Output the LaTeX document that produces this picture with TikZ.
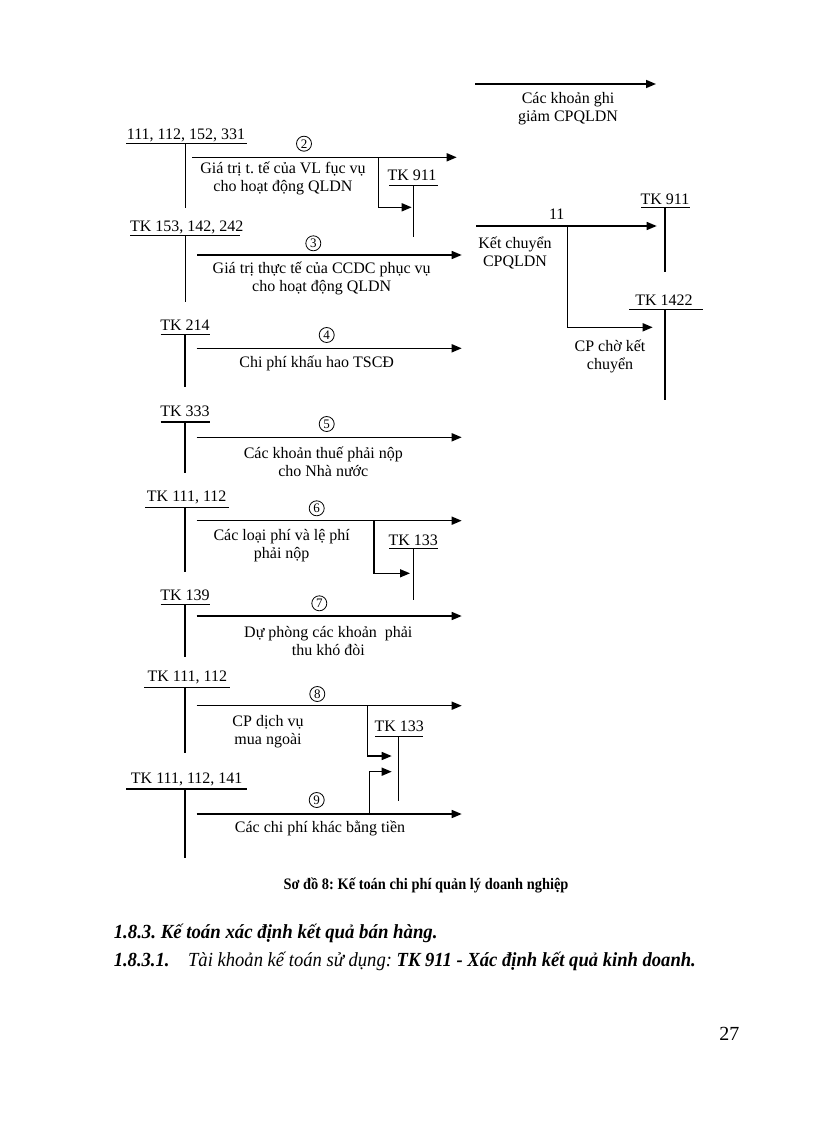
\documentclass[tikz,border=0pt]{standalone}
\usepackage{fontspec}
\setmainfont{Liberation Serif}
\usetikzlibrary{arrows.meta}
\frenchspacing
\begin{document}
\begin{tikzpicture}[x=1pt,y=-1pt,>={Triangle[length=10pt,width=8pt]},line width=1.5pt,
    acc/.style={font=\fontsize{16}{18}\selectfont,inner sep=0pt,anchor=base},
    txt/.style={font=\fontsize{16}{18}\selectfont,align=center,inner sep=0pt},
    num/.style={circle,draw,line width=0.8pt,inner sep=0pt,minimum size=15pt,font=\fontsize{13}{13}\selectfont}]
  \useasboundingbox (0,0) rectangle (816,1123);

  % ghi giam
  \coordinate (g1) at (475,84);
  \coordinate (g2) at (656,84);
  \draw[->] (g1) -- (g2);
  \node[txt] (ghigiam) at (568,109) {Các khoản ghi\\giảm CPQLDN};

  % (2)
  \node[acc] (a2) at (186,140) {111, 112, 152, 331};
  \draw (126,143.3) -- (247,143.3);
  \draw (185.3,143.3) -- (185.3,208);
  \coordinate (s2) at (192,157.3);
  \coordinate (e2) at (456.7,157.3);
  \draw[->] (s2) -- (e2);
  \node[num] (n2) at (304,143.7) {2};
  \node[txt] (t2) at (283,178.3) {Giá trị t. tế của VL fục vụ\\cho hoạt động QLDN};
  \node[acc] (k911a) at (412,181) {TK 911};
  \draw (389,185.7) -- (438,185.7);
  \draw (413.3,185.7) -- (413.3,236.7);
  \coordinate (b2) at (378.3,157.3);
  \coordinate (d2) at (411.7,207.3);
  \draw[->] (b2) |- (d2);

  % (3)
  \node[acc] (a3) at (186.7,231.7) {TK 153, 142, 242};
  \draw (130,235.7) -- (240,235.7);
  \draw (185.3,235.7) -- (185.3,301.7);
  \coordinate (s3) at (197.3,255);
  \coordinate (e3) at (461.7,255);
  \draw[->] (s3) -- (e3);
  \node[num] (n3) at (313.3,243.3) {3};
  \node[txt] (t3) at (321.7,278.8) {Giá trị thực tế của CCDC phục vụ\\cho hoạt động QLDN};

  % ket chuyen
  \node[acc] (k911b) at (665,204.5) {TK 911};
  \draw (641,207.3) -- (690,207.3);
  \draw (665,207.3) -- (665,271.7);
  \node[acc] (n11) at (556.7,219) {11};
  \coordinate (s11) at (476,226);
  \coordinate (e11) at (656.7,226);
  \draw[->] (s11) -- (e11);
  \node[txt] (t11) at (515,252.5) {Kết chuyển\\CPQLDN};
  \node[acc] (k1422) at (664,305) {TK 1422};
  \draw (629.3,309.3) -- (702.7,309.3);
  \draw (665,309.3) -- (665,400);
  \coordinate (b11) at (567.3,226);
  \coordinate (d11) at (652.7,327.3);
  \draw[->] (b11) |- (d11);
  \node[txt] (t1422) at (610,356.7) {CP chờ kết\\chuyển};

  % (4)
  \node[acc] (a4) at (185,330) {TK 214};
  \draw (160.7,334.3) -- (210,334.3);
  \draw (185,334.3) -- (185,386.7);
  \coordinate (s4) at (196.7,348.3);
  \coordinate (e4) at (461.7,348.3);
  \draw[->] (s4) -- (e4);
  \node[num] (n4) at (326.7,335) {4};
  \node[txt] (t4) at (316.7,363.3) {Chi phí khấu hao TSCĐ};

  % (5)
  \node[acc] (a5) at (185,416.7) {TK 333};
  \draw (160.7,422) -- (210,422);
  \draw (185,422) -- (185,473.3);
  \coordinate (s5) at (196.7,437.3);
  \coordinate (e5) at (461.7,437.3);
  \draw[->] (s5) -- (e5);
  \node[num] (n5) at (326.7,424) {5};
  \node[txt] (t5) at (323.3,461.3) {Các khoản thuế phải nộp\\cho Nhà nước};

  % (6)
  \node[acc] (a6) at (186.7,501.7) {TK 111, 112};
  \draw (145,507.7) -- (229.3,507.7);
  \draw (185,507.7) -- (185,571.7);
  \coordinate (s6) at (196.7,520.7);
  \coordinate (e6) at (461.7,520.7);
  \draw[->] (s6) -- (e6);
  \node[num] (n6) at (316.7,508.3) {6};
  \node[txt] (t6) at (281.7,545.8) {Các loại phí và lệ phí\\phải nộp};
  \node[acc] (k133a) at (413.3,545.7) {TK 133};
  \draw (389.3,548.3) -- (438.3,548.3);
  \draw (413.3,548.3) -- (413.3,600);
  \coordinate (b6) at (374,520.7);
  \coordinate (d6) at (410,573.3);
  \draw[->] (b6) |- (d6);

  % (7)
  \node[acc] (a7) at (185,600) {TK 139};
  \draw (160.7,604.3) -- (210,604.3);
  \draw (185,604.3) -- (185,656.7);
  \coordinate (s7) at (196.7,616);
  \coordinate (e7) at (461.7,616);
  \draw[->] (s7) -- (e7);
  \node[num] (n7) at (319.3,603.3) {7};
  \node[txt] (t7) at (328.3,640.8) {Dự phòng các khoản~ phải\\thu khó đòi};

  % (8)
  \node[acc] (a8) at (187.3,681.7) {TK 111, 112};
  \draw (144.3,687.3) -- (230,687.3);
  \draw (185,687.3) -- (185,752.7);
  \coordinate (s8) at (196.7,705.7);
  \coordinate (e8) at (461.7,705.7);
  \draw[->] (s8) -- (e8);
  \node[num] (n8) at (317.3,694) {8};
  \node[txt] (t8) at (268,731.2) {CP dịch vụ\\mua ngoài};
  \node[acc] (k133b) at (399.3,731.7) {TK 133};
  \draw (375,736.7) -- (423.3,736.7);
  \draw (398.7,736.7) -- (398.7,800.7);
  \coordinate (b8) at (367.3,705.7);
  \coordinate (d8) at (391.7,756);
  \draw[->] (b8) |- (d8);

  % (9)
  \node[acc] (a9) at (186.7,783.3) {TK 111, 112, 141};
  \draw (126,789) -- (246.7,789);
  \draw (185,789) -- (185,858.3);
  \coordinate (s9) at (196.7,814);
  \coordinate (e9) at (461.7,814);
  \draw[->] (s9) -- (e9);
  \node[num] (n9) at (316.7,800) {9};
  \node[txt] (t9) at (320,828.3) {Các chi phí khác bằng tiền};
  \coordinate (b9) at (369.3,814);
  \coordinate (d9) at (391.7,771.7);
  \draw[->] (b9) |- (d9);

  % caption and headings
  \node[font=\bfseries\fontsize{16}{16}\selectfont,inner sep=0pt,anchor=base] (cap) at (426,889.3) {\scalebox{0.9}[1]{Sơ đồ 8: Kế toán chi phí quản lý doanh nghiệp}};
  \node[font=\bfseries\itshape\fontsize{20}{20}\selectfont,inner sep=0pt,anchor=base west] (h1) at (113,938.3) {\scalebox{0.94}[1]{1.8.3. Kế toán xác định kết quả bán hàng.}};
  \node[font=\itshape\fontsize{20}{20}\selectfont,inner sep=0pt,anchor=base west] (h2) at (113,966.7) {\scalebox{0.93}[1]{\textbf{1.8.3.1.}\quad Tài khoản kế toán sử dụng: \textbf{TK 911 - Xác định kết quả kinh doanh.}}};
  \node[font=\fontsize{20}{20}\selectfont,inner sep=0pt,anchor=base east] (page) at (740,1040) {27};
\end{tikzpicture}
\end{document}
